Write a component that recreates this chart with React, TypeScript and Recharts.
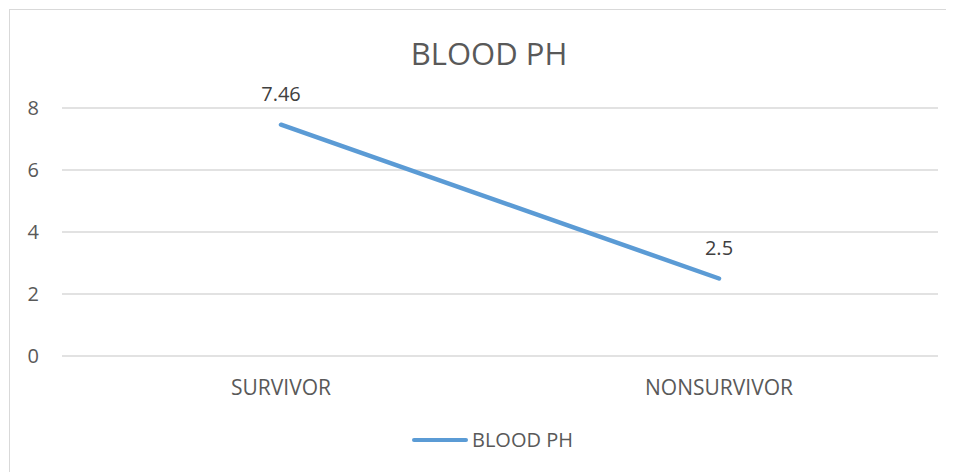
import React from "react";
import {
  LineChart,
  Line,
  XAxis,
  YAxis,
  CartesianGrid,
  Legend,
  LabelList,
} from "recharts";

const categories = ["SURVIVOR", "NONSURVIVOR"];
const bloodPh = [7.46, 2.5];
const yTicks = [0, 2, 4, 6, 8];

const data = categories.map((name, i) => ({ name, value: bloodPh[i] }));

const FONT = "'Open Sans', sans-serif";
const LINE_COLOR = "#5B9BD5";

function LegendContent() {
  return (
    <div
      style={{
        display: "flex",
        alignItems: "center",
        paddingLeft: 402,
        fontFamily: FONT,
        fontSize: 20,
        color: "#595959",
      }}
    >
      <span
        style={{
          display: "inline-block",
          width: 56,
          height: 4,
          borderRadius: 2,
          background: LINE_COLOR,
        }}
      />
      <span style={{ marginLeft: 4 }}>BLOOD PH</span>
    </div>
  );
}

export default function App() {
  return (
    <div
      style={{
        position: "relative",
        width: 958,
        height: 470,
        marginLeft: 1,
        marginTop: 1,
        border: "1px solid #d9d9d9",
        background: "#fff",
        fontFamily: FONT,
      }}
    >
      <div
        style={{
          position: "absolute",
          top: 22,
          left: 0,
          width: 958,
          textAlign: "center",
          fontSize: 31,
          color: "#595959",
          zIndex: 1,
        }}
      >
        BLOOD PH
      </div>
      <LineChart
        width={958}
        height={470}
        data={data}
        margin={{ top: 98, right: 30, left: 0, bottom: 64 }}
      >
        <CartesianGrid vertical={false} stroke="#d9d9d9" strokeWidth={1.5} />
        <XAxis
          dataKey="name"
          height={60}
          padding={{ left: 219, right: 219 }}
          axisLine={false}
          tickLine={false}
          tickSize={0}
          tickMargin={24}
          tick={{ fill: "#595959", fontSize: 21, fontFamily: FONT }}
        />
        <YAxis
          width={52}
          domain={[0, 8]}
          ticks={yTicks}
          axisLine={false}
          tickLine={false}
          tickSize={0}
          tickMargin={23}
          tick={{ fill: "#595959", fontSize: 20, fontFamily: FONT }}
        />
        <Legend
          verticalAlign="middle"
          align="center"
          wrapperStyle={{ top: 416, left: 0, width: 958 }}
          content={() => <LegendContent />}
        />
        <Line
          type="linear"
          dataKey="value"
          name="BLOOD PH"
          stroke={LINE_COLOR}
          strokeWidth={4.5}
          strokeLinecap="round"
          dot={false}
          activeDot={false}
          isAnimationActive={false}
        >
          <LabelList
            dataKey="value"
            position="top"
            offset={24}
            fill="#404040"
            fontSize={20}
            fontFamily={FONT}
          />
        </Line>
      </LineChart>
    </div>
  );
}
